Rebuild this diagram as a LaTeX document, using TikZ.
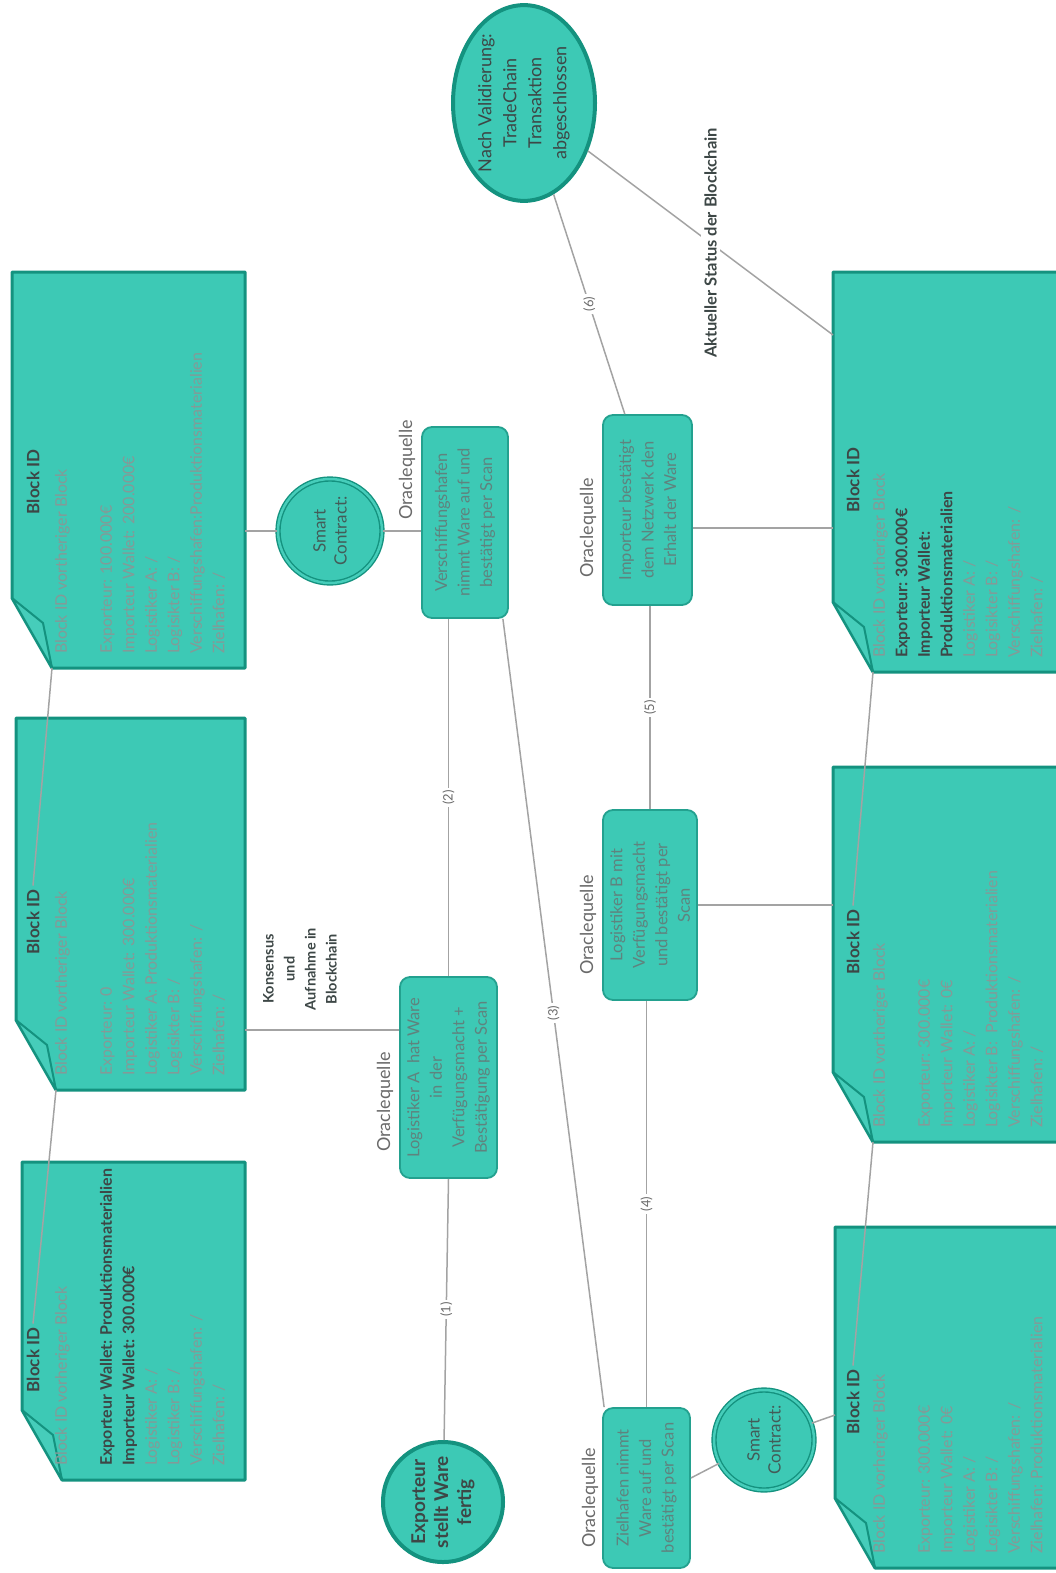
\documentclass[tikz,border=0pt]{standalone}
\usepackage{fontspec}
\setmainfont{Lato}
\usetikzlibrary{shapes.geometric,calc}
\definecolor{tealfill}{HTML}{3DC9B5}
\definecolor{tealdark}{HTML}{14927F}
\definecolor{tealedge}{HTML}{23A18F}
\definecolor{flapfill}{HTML}{46CDBA}
\definecolor{txtgray}{HTML}{849A97}
\definecolor{boxtxt}{HTML}{5F837E}
\definecolor{txtdark}{HTML}{3D4746}
\definecolor{linegray}{HTML}{A3A3A3}
\definecolor{lblgray}{HTML}{6A6A6A}
\newcommand\dkb[1]{\textcolor{txtdark}{\bfseries #1}}
% name, x0, y0 (top), x1, y1 (bottom)
\newcommand\noteblk[5]{%
  \path[blockshape] (#2,#3) -- (#4,#3) -- (#4,#5) -- ({#2+40},#5) -- (#2,{#5-70}) -- cycle;
  \path[foldflap] (#2,{#5-70}) -- ({#2+31},{#5-45}) -- ({#2+40},#5) -- cycle;
  \coordinate (#1tip) at ({#2+40},#5);
}
\begin{document}
\begin{tikzpicture}[x=1pt, y=-1pt,
  blockshape/.style={fill=tealfill, draw=tealdark, line width=3pt, line join=round},
  foldflap/.style={fill=flapfill, draw=tealdark, line width=2pt, line join=round},
  btitle/.style={rotate=90, inner sep=4pt, font=\fontsize{17}{21}\selectfont\bfseries, text=txtdark},
  bbody/.style={rotate=90, inner sep=0pt, anchor=north west, align=left, font=\fontsize{16}{22.5}\selectfont, text=txtgray},
  obox/.style={rotate=90, rectangle, rounded corners=10pt, fill=tealfill, draw=tealedge, line width=1.8pt, align=center, inner sep=0pt, font=\fontsize{16.5}{22.5}\selectfont, text=boxtxt},
  sccirc/.style={rotate=90, circle, fill=tealfill, draw=tealdark, line width=1.4pt, double=flapfill, double distance=2.5pt, align=center, inner sep=0pt, font=\fontsize{17}{21}\selectfont, text=boxtxt!70!black},
  bigcirc/.style={rotate=90, fill=tealfill, draw=tealdark, line width=4pt, align=center, inner sep=0pt},
  conn/.style={draw=linegray, line width=1.5pt},
  numlbl/.style={rotate=90, fill=white, inner sep=2.5pt, font=\fontsize{13}{15}\selectfont, text=lblgray},
  oracle/.style={rotate=90, inner sep=0pt, font=\fontsize{18}{21}\selectfont, text=lblgray},
  lbl/.style={rotate=90, inner sep=3pt, align=center, text=txtdark}
]
\useasboundingbox (0,0) rectangle (1056,1573);
\clip (0,0) rectangle (1056,1573);

% ---------- blocks ----------
\noteblk{L3}{12}{272}{245}{668}
\noteblk{L2}{16}{718}{245}{1090}
\noteblk{L1}{22}{1162}{245}{1480}
\noteblk{R3}{833}{272}{1075}{672}
\noteblk{R2}{833}{767}{1075}{1142}
\noteblk{R1}{835}{1227}{1075}{1568}

\node[btitle] (L3t) at (33,482) {Block ID};
\node[btitle] (L2t) at (33,922) {Block ID};
\node[btitle] (L1t) at (33,1360) {Block ID};
\node[btitle] (R3t) at (853,480) {Block ID};
\node[btitle] (R2t) at (853,942) {Block ID};
\node[btitle] (R1t) at (853,1402) {Block ID};

\node[bbody] (L3b) at (55,654) {Block ID vortheriger Block\\[22.5pt]
Exporteur: 100.000€\\
Importeur Wallet: 200.000€\\
Logistiker A: /\\
Logisikter B: /\\
Verschiffungshafen:Produktionsmaterialien\\
Zielhafen: /};

\node[bbody] (L2b) at (55,1076) {Block ID vortheriger Block\\[22.5pt]
Exporteur: 0\\
Importeur Wallet: 300.000€\\
Logistiker A: Produktionsmaterialien\\
Logisikter B: /\\
Verschiffungshafen: /\\
Zielhafen: /};

\node[bbody] (L1b) at (55,1466) {Block ID vorheriger Block\\[22.5pt]
\dkb{Exporteur Wallet: Produktionsmaterialien}\\
\dkb{Importeur Wallet: 300.000€}\\
Logistiker A: /\\
Logistiker B: /\\
Verschiffungshafen: /\\
Zielhafen: /};

\node[bbody] (R3b) at (873,658) {Block ID vortheriger Block\\
\dkb{Exporteur: 300.000€}\\
\dkb{Importeur Wallet:}\\
\dkb{Produktionsmaterialien}\\
Logistiker A: /\\
Logisikter B: /\\
Verschiffungshafen: /\\
Zielhafen: /};

\node[bbody] (R2b) at (873,1128) {Block ID vortheriger Block\\[22.5pt]
Exporteur: 300.000€\\
Importeur Wallet: 0€\\
Logistiker A: /\\
Logisikter B:~ Produktionsmaterialien\\
Verschiffungshafen: /\\
Zielhafen: /};

\node[bbody] (R1b) at (873,1554) {Block ID vorheriger Block\\[22.5pt]
Exporteur: 300.000€\\
Importeur Wallet: 0€\\
Logistiker A: /\\
Logisikter B: /\\
Verschiffungshafen: /\\
Zielhafen: Produktionsmaterialien};

% ---------- process nodes ----------
\node[obox, minimum width=191pt, minimum height=86pt] (V) at (465,522.5) {Verschiffungshafen\\nimmt Ware auf und\\bestätigt per Scan};
\node[obox, minimum width=201pt, minimum height=97pt] (A) at (448.5,1077.5) {Logistiker A~ hat Ware\\in der\\Verfügungsmacht +\\Bestätigung per Scan};
\node[obox, minimum width=160pt, minimum height=87pt] (Z) at (646.5,1488) {Zielhafen nimmt\\Ware auf und\\bestätigt per Scan};
\node[obox, minimum width=190pt, minimum height=94pt] (B) at (650,905) {Logistiker B mit\\Verfügungsmacht\\und bestätigt per\\Scan};
\node[obox, minimum width=190pt, minimum height=89pt] (I) at (647.5,510) {Importeur bestätigt\\dem Netzwerk den\\Erhalt der Ware};

\node[oracle] (oV) at (407,470) {Oraclequelle};
\node[oracle] (oA) at (385,1102) {Oraclequelle};
\node[oracle] (oZ) at (590,1498) {Oraclequelle};
\node[oracle] (oB) at (588,925) {Oraclequelle};
\node[oracle] (oI) at (588,528) {Oraclequelle};

\node[sccirc, minimum size=104pt] (SC1) at (330,531) {Smart\\Contract:};
\node[sccirc, minimum size=100pt] (SC2) at (764,1440) {Smart\\Contract:};

\node[bigcirc, circle, minimum size=120pt, font=\fontsize{19}{23}\selectfont\bfseries, text=txtdark] (E) at (443,1502) {Exporteur\\stellt Ware\\fertig};
\node[bigcirc, ellipse, minimum width=192pt, minimum height=142pt, font=\fontsize{18}{25}\selectfont, text=txtdark] (N) at (524,103) {Nach Validierung:\\TradeChain\\Transaktion\\abgeschlossen};

\node[lbl, font=\fontsize{14.5}{21}\selectfont\bfseries] (kons) at (300,969) {Konsensus\\und\\Aufnahme in\\Blockchain};

% ---------- connectors ----------
\draw[conn] (L3tip) -- (L2t.east);
\draw[conn] (L2tip) -- (L1t.east);
\draw[conn] (R3tip) -- (R2t.east);
\draw[conn] (R2tip) -- (R1t.east);

\coordinate (L3r) at (245,531);
\draw[conn] (L3r) -- (SC1);
\draw[conn] (SC1) -- (SC1 -| V.north);

\coordinate (L2r) at (245,1030);
\draw[conn] (L2r) -- (L2r -| A.north);

\draw[conn] (A.west) -- (E) node[numlbl, pos=0.5] {(1)};
\draw[conn] (A.east) -- (A.east |- V.west) node[numlbl, pos=0.5] {(2)};
\draw[conn] ($(V.south west)+(-6,0)$) -- ($(Z.north east)+(2,0)$) node[numlbl, pos=0.5] {(3)};
\draw[conn] (Z.east) -- (Z.east |- B.west) node[numlbl, pos=0.5] {(4)};
\draw[conn] (B.east) -- (B.east |- I.west) node[numlbl, pos=0.5] {(5)};
\draw[conn] ($(I.north east)!0.5!(I.east)$) -- (N) node[numlbl, pos=0.5] {(6)};

\coordinate (R3l) at (833,335);
\draw[conn] (N) -- (R3l) node[lbl, pos=0.5, fill=white, font=\fontsize{16.5}{20}\selectfont\bfseries] {Aktueller Status der Blockchain};

\coordinate (R3m) at (833,528);
\draw[conn] (I.south |- R3m) -- (R3m);
\coordinate (R2m) at (833,905);
\draw[conn] (B.south |- R2m) -- (R2m);
\draw[conn] ($(Z.south)+(0,-10)$) -- (SC2);
\coordinate (R1l) at (835,1415);
\draw[conn] (SC2) -- (R1l);
\end{tikzpicture}
\end{document}
